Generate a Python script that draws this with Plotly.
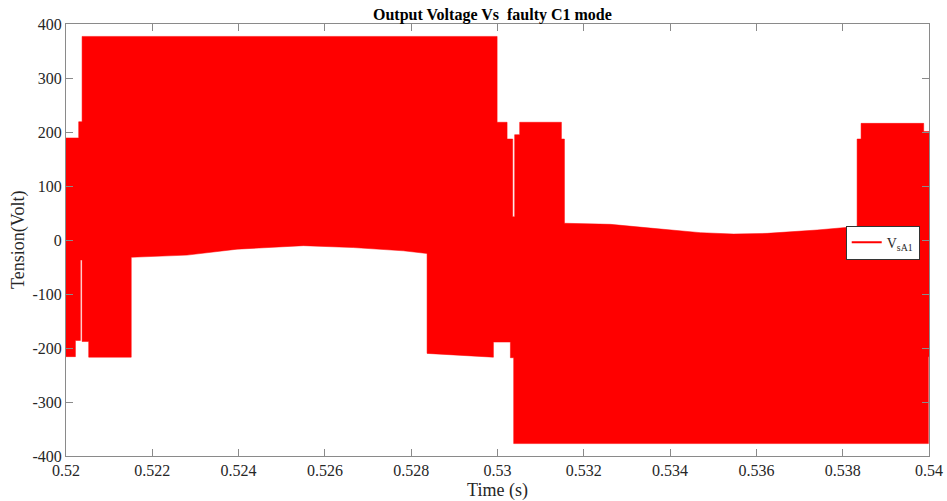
import plotly.graph_objects as go

# Upper envelope of the switching waveform (time in s, voltage in V)
upper_time = [0.52, 0.520294, 0.520294, 0.520373, 0.520373, 0.529991, 0.529991, 0.530222,
              0.530222, 0.530352, 0.530352, 0.530398, 0.530398, 0.530514, 0.530514, 0.531481,
              0.531481, 0.531551, 0.531551, 0.532617, 0.533544, 0.534703, 0.535468, 0.536249,
              0.537408, 0.538179, 0.538334, 0.538334, 0.538426, 0.538426, 0.539877, 0.539877,
              0.54]
upper_volt = [189, 189, 219, 219, 377, 377, 218, 218,
              187, 187, 43, 43, 195, 195, 218, 218,
              187, 187, 31, 29, 22, 13.6, 11, 12.3,
              18.5, 24.6, 25, 187, 187, 216, 216, 201,
              201]

# Lower envelope of the switching waveform
lower_time = [0.52, 0.520218, 0.520218, 0.520334, 0.520334, 0.520373, 0.520373, 0.520526,
              0.520526, 0.521512, 0.521512, 0.522806, 0.523965, 0.525502, 0.526660, 0.527819,
              0.528368, 0.528368, 0.529905, 0.529905, 0.530299, 0.530299, 0.530375, 0.530375,
              0.539986, 0.539986, 0.54]
lower_volt = [-216, -216, -186, -186, -37, -37, -188, -188,
              -217, -217, -32, -28, -17, -10.5, -14, -20,
              -25, -210, -217, -189, -189, -218, -218, -377,
              -377, -216, -216]

x_ticks = [0.52, 0.522, 0.524, 0.526, 0.528, 0.53, 0.532, 0.534, 0.536, 0.538, 0.54]
x_tick_labels = ["0.52", "0.522", "0.524", "0.526", "0.528", "0.53", "0.532", "0.534",
                 "0.536", "0.538", "0.54"]
y_ticks = [-400, -300, -200, -100, 0, 100, 200, 300, 400]
y_tick_labels = ["-400", "-300", "-200", "-100", "0", "100", "200", "300", "400"]

poly_x = upper_time + lower_time[::-1]
poly_y = upper_volt + lower_volt[::-1]

serif = "Liberation Serif, Times New Roman, serif"
axis_col = "#8a8a8a"

fig = go.Figure()
fig.add_trace(go.Scatter(x=poly_x, y=poly_y, fill="toself", fillcolor="#ff0000",
                         mode="lines", line=dict(color="#ff0000", width=0.5),
                         showlegend=False, hoverinfo="skip"))
fig.add_trace(go.Scatter(x=[None], y=[None], mode="lines",
                         line=dict(color="#ff0000", width=2),
                         name="V<sub>sA1</sub>"))

fig.update_layout(
    width=947, height=501,
    margin=dict(l=66, r=18, t=24, b=45, autoexpand=False),
    paper_bgcolor="white", plot_bgcolor="white",
    font=dict(family=serif, color="#262626", size=15),
    title=dict(text="<b>Output Voltage Vs  faulty C1 mode</b>", x=0.52, xanchor="center",
               y=0.983, yanchor="top", font=dict(family=serif, size=16, color="black")),
    legend=dict(x=0.9035, y=0.533, xanchor="left", yanchor="top",
                bgcolor="white", bordercolor="#333333", borderwidth=1,
                font=dict(family=serif, size=14, color="#262626"),
                itemwidth=30, tracegroupgap=0),
    showlegend=True,
    annotations=[dict(text="Tension(Volt)", xref="paper", yref="paper", x=0, y=0.5,
                      xanchor="center", yanchor="middle", xshift=-48, textangle=-90,
                      showarrow=False, font=dict(family=serif, size=18, color="#262626"))],
)
fig.update_xaxes(range=[0.52, 0.54], tickvals=x_ticks, ticktext=x_tick_labels,
                 showgrid=False, zeroline=False, showline=True, linecolor=axis_col,
                 linewidth=1, mirror="ticks", ticks="inside", ticklen=7, automargin=False,
                 tickcolor=axis_col, tickfont=dict(family=serif, size=16, color="#262626"),
                 title=dict(text="Time (s)", font=dict(family=serif, size=18, color="#262626")))
fig.update_yaxes(range=[-400, 400], tickvals=y_ticks, ticktext=y_tick_labels,
                 showgrid=False, zeroline=False, showline=True, linecolor=axis_col,
                 linewidth=1, mirror="ticks", ticks="inside", ticklen=7, automargin=False,
                 tickcolor=axis_col, tickfont=dict(family=serif, size=16, color="#262626"))

fig.write_html("out.html")
